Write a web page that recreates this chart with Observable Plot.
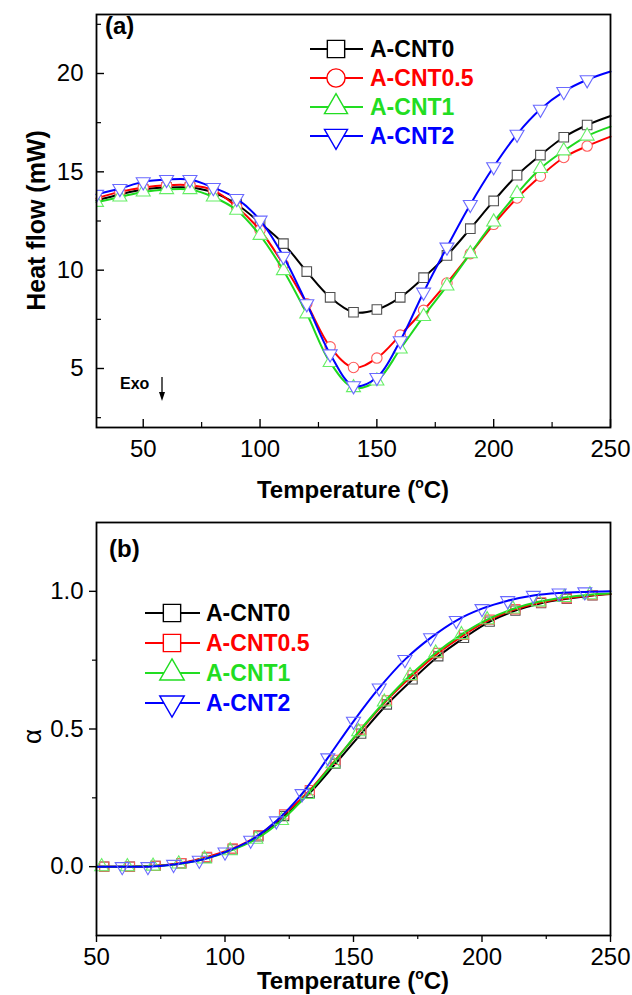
<!DOCTYPE html>
<html><head><meta charset="utf-8">
<script src="https://cdn.jsdelivr.net/npm/d3@7"></script>
<script src="https://cdn.jsdelivr.net/npm/@observablehq/plot@0.6"></script>
<style>
body{margin:0;background:#fff;}
#chart{width:632px;}
#chart svg{display:block;overflow:visible;}
</style></head><body><div id="chart"></div>
<script>
// ---------- DATA: panel (a) heat flow ----------
const T_A = [30,40,50,60,70,80,90,100,110,120,130,140,150,160,170,180,190,200,210,220,230,240,250];
const HF_CNT0  = [13.55,13.85,14.1,14.2,14.2,13.95,13.35,12.4,11.35,9.93,8.62,7.86,8.0,8.62,9.62,10.75,12.11,13.52,14.83,15.85,16.76,17.38,17.84];
const HF_CNT05 = [13.65,13.98,14.2,14.32,14.32,14.07,13.21,12.03,10.29,8.29,6.1,5.05,5.53,6.7,7.96,9.35,10.84,12.33,13.67,14.78,15.73,16.31,16.79];
const HF_CNT1  = [13.45,13.72,13.98,14.1,14.1,13.72,13.05,11.77,9.98,7.78,5.31,4.03,4.37,5.99,7.65,9.2,10.84,12.45,13.9,15.17,16.07,16.82,17.3];
const HF_CNT2  = [13.85,14.15,14.49,14.61,14.61,14.2,13.64,12.54,10.7,8.29,5.74,4.12,4.54,6.41,8.88,11.17,13.34,15.26,16.91,18.18,19.08,19.68,20.1];

// ---------- DATA: panel (b) conversion alpha ----------
const T_B_CNT0  = [50,53,63,73,83,93,103,113,123,133,143,153,163,173,183,193,203,213,223,233,243,250];
const A_CNT0    = [0,0,0,0.003,0.012,0.033,0.063,0.11,0.184,0.268,0.374,0.483,0.589,0.68,0.764,0.831,0.89,0.93,0.957,0.973,0.985,0.99];
const T_B_CNT05 = [50,53,63,73,83,93,103,113,123,133,143,153,163,173,183,193,203,213,223,233,243,250];
const A_CNT05   = [0,0,0,0.003,0.013,0.035,0.066,0.114,0.19,0.278,0.388,0.498,0.604,0.695,0.776,0.842,0.897,0.935,0.96,0.975,0.986,0.99];
const T_B_CNT1  = [50,52,62,72,82,92,102,112,122,132,142,152,162,172,182,192,202,212,222,232,242,250];
const A_CNT1    = [0,0,0,0.002,0.01,0.028,0.058,0.1,0.168,0.262,0.374,0.49,0.598,0.694,0.776,0.843,0.897,0.936,0.962,0.978,0.988,0.992];
const T_B_CNT2  = [50,60,70,80,90,100,110,120,130,140,150,160,170,180,190,200,210,220,230,240,250];
const A_CNT2    = [0,0,0,0.008,0.023,0.053,0.096,0.166,0.265,0.395,0.528,0.649,0.752,0.831,0.894,0.937,0.966,0.985,0.994,0.998,1.0];

const SERIES_NAMES = ["A-CNT0","A-CNT0.5","A-CNT1","A-CNT2"];

// ticks
const XA_MAJOR = [50,100,150,200,250];
const XA_MINOR = [75,125,175,225];
const YA_MAJOR = [5,10,15,20];
const YA_MINOR = [2.5,7.5,12.5,17.5,22.5];
const XB_MAJOR = [50,100,150,200,250];
const XB_MINOR = [75,125,175,225];
const YB_MAJOR = [0,0.5,1.0];
const YB_MINOR = [0.25,0.75];

// ---------- style ----------
const FONT = "'Liberation Sans', Arial, Helvetica, sans-serif";
const W = 632;
const sqrt3 = Math.sqrt(3);
const triangleDown = {draw(context, size){
  const y = -Math.sqrt(size/(sqrt3*3));
  context.moveTo(0, -y*2);
  context.lineTo(-sqrt3*y, y);
  context.lineTo(sqrt3*y, y);
  context.closePath();
}};
const LINE_COLORS = ["#000000","#ff0000","#1ed81e","#0000ff"];
const MARK_COLORS = ["#505050","#ff5a5a","#66ee66","#6a6aff"];
const TEXT_COLORS = ["#000000","#ff0000","#22dd22","#0000ff"];

function zip(T, V){ return T.map((t,i)=>({T:t, v:V[i]})); }

function addLegend(svg, items, x1, x2, xm, xt, y0, dy, sizes){
  const g = svg.append("g").attr("text-anchor","start");
  items.forEach((s,i)=>{
    const cy = y0 + i*dy;
    g.append("line").attr("x1",x1).attr("x2",x2).attr("y1",cy).attr("y2",cy)
      .attr("stroke",s.color).attr("stroke-width",2);
    g.append("path").attr("d", d3.symbol(s.sym, sizes[i])())
      .attr("transform",`translate(${xm},${cy})`)
      .attr("fill","white").attr("stroke",s.color).attr("stroke-width",1.4);
    g.append("text").attr("x",xt).attr("y",cy).attr("dy","0.36em").attr("text-anchor","start")
      .attr("font-family",FONT).attr("font-weight","bold").attr("font-size",23)
      .attr("fill",s.tcolor).text(s.name);
  });
}
function tempTitle(svg, x, y){
  const t = svg.append("text").attr("x",x).attr("y",y).attr("text-anchor","middle")
    .attr("font-family",FONT).attr("font-weight","bold").attr("font-size",24).attr("fill","black");
  t.append("tspan").text("Temperature (");
  t.append("tspan").text("o").attr("font-size",14).attr("dy",-10);
  t.append("tspan").text("C)").attr("dy",10);
}
function label(svg, x, y, txt, size, bold){
  return svg.append("text").attr("x",x).attr("y",y).attr("text-anchor","start")
    .attr("font-family",FONT).attr("font-weight",bold?"bold":"normal")
    .attr("font-size",size).attr("fill","black").text(txt);
}

// ---------- panel (a) ----------
{
  const H = 510, mt = 14, mb = 83, ml = 96, mr = 22;
  const innerW = W-ml-mr, innerH = H-mt-mb;
  const sA = [
    {data: zip(T_A,HF_CNT0),  sym:"square",   r:5.4},
    {data: zip(T_A,HF_CNT05), sym:"circle",   r:5.2},
    {data: zip(T_A,HF_CNT1),  sym:"triangle", r:5.2},
    {data: zip(T_A,HF_CNT2),  sym:triangleDown, r:5.2}
  ];
  const marks = [];
  sA.forEach((s,i)=>{
    marks.push(Plot.line(s.data,{x:"T",y:"v",stroke:LINE_COLORS[i],strokeWidth:2,curve:"catmull-rom"}));
    marks.push(Plot.dot(s.data.slice(0,-1),{x:"T",y:"v",symbol:s.sym,r:s.r,fill:"white",stroke:MARK_COLORS[i],strokeWidth:1.1,clip:true}));
  });
  marks.push(Plot.frame({stroke:"black",strokeWidth:1.8}));
  marks.push(Plot.tickX(XA_MAJOR,{x:d=>d,insetTop:innerH-8,stroke:"black",strokeWidth:1.4}));
  marks.push(Plot.tickX(XA_MINOR,{x:d=>d,insetTop:innerH-5,stroke:"black",strokeWidth:1.2}));
  marks.push(Plot.tickY(YA_MAJOR,{y:d=>d,insetRight:innerW-8,stroke:"black",strokeWidth:1.4}));
  marks.push(Plot.tickY(YA_MINOR,{y:d=>d,insetRight:innerW-5,stroke:"black",strokeWidth:1.2}));
  marks.push(Plot.axisX({ticks:XA_MAJOR,tickSize:0,tickPadding:12,fontSize:24,label:null}));
  marks.push(Plot.axisY({ticks:YA_MAJOR,tickSize:0,tickPadding:13,fontSize:24,label:null}));
  const plot = Plot.plot({
    width:W, height:H, marginTop:mt, marginBottom:mb, marginLeft:ml, marginRight:mr,
    style:{fontFamily:FONT, color:"black", background:"white", overflow:"visible"},
    x:{domain:[30,250]}, y:{domain:[2,23]},
    marks
  });
  document.getElementById("chart").appendChild(plot);
  const svg = d3.select(plot);
  tempTitle(svg, (ml+W-mr)/2, 498);
  svg.append("text").attr("transform",`translate(36,${mt+innerH/2}) rotate(-90)`)
    .attr("text-anchor","middle").attr("dy","0.36em")
    .attr("font-family",FONT).attr("font-weight","bold").attr("font-size",25).text("Heat flow (mW)");
  label(svg, 105, 34, "(a)", 24, true);
  label(svg, 120, 389, "Exo", 16, true);
  svg.append("path").attr("d","M162,377V395").attr("stroke","black").attr("stroke-width",1.3);
  svg.append("path").attr("d","M159,392L165,392L162,401Z").attr("fill","black");
  addLegend(svg, [
    {name:SERIES_NAMES[0], color:"#000", tcolor:TEXT_COLORS[0], sym:d3.symbolSquare},
    {name:SERIES_NAMES[1], color:"#ff0000", tcolor:TEXT_COLORS[1], sym:d3.symbolCircle},
    {name:SERIES_NAMES[2], color:"#22dd22", tcolor:TEXT_COLORS[2], sym:d3.symbolTriangle},
    {name:SERIES_NAMES[3], color:"#0000ff", tcolor:TEXT_COLORS[3], sym:triangleDown}
  ], 310, 363, 336, 370, 49, 29, [300,260,230,230]);
}

// ---------- panel (b) ----------
{
  const H = 485, mt = 12, mb = 60, ml = 96, mr = 22;
  const innerW = W-ml-mr, innerH = H-mt-mb;
  const sB = [
    {data: zip(T_B_CNT0,A_CNT0),   sym:"square"},
    {data: zip(T_B_CNT05,A_CNT05), sym:"square"},
    {data: zip(T_B_CNT1,A_CNT1),   sym:"triangle"},
    {data: zip(T_B_CNT2,A_CNT2),   sym:triangleDown}
  ];
  const marks = [];
  sB.forEach((s,i)=>{
    marks.push(Plot.line(s.data,{x:"T",y:"v",stroke:LINE_COLORS[i],strokeWidth:2,curve:"catmull-rom"}));
    marks.push(Plot.dot(s.data.slice(1,-1),{x:"T",y:"v",symbol:s.sym,r:5.2,fill:"none",stroke:MARK_COLORS[i],strokeWidth:1.1}));
  });
  marks.push(Plot.frame({stroke:"black",strokeWidth:1.8}));
  marks.push(Plot.axisX({ticks:XB_MAJOR,tickSize:7,tickPadding:5,fontSize:24,label:null,strokeWidth:1.4}));
  marks.push(Plot.axisX({ticks:XB_MINOR,tickSize:4,tickFormat:()=>"",label:null,strokeWidth:1.2}));
  marks.push(Plot.axisY({ticks:YB_MAJOR,tickSize:7,tickPadding:6,fontSize:24,label:null,tickFormat:d3.format(".1f"),strokeWidth:1.4}));
  marks.push(Plot.axisY({ticks:YB_MINOR,tickSize:4,tickFormat:()=>"",label:null,strokeWidth:1.2}));
  const plot = Plot.plot({
    width:W, height:H, marginTop:mt, marginBottom:mb, marginLeft:ml, marginRight:mr,
    style:{fontFamily:FONT, color:"black", background:"white", overflow:"visible"},
    x:{domain:[50,250]}, y:{domain:[-0.25,1.25]},
    marks
  });
  document.getElementById("chart").appendChild(plot);
  const svg = d3.select(plot);
  tempTitle(svg, (ml+W-mr)/2, 479);
  svg.append("text").attr("transform",`translate(32,${mt+innerH/2+8}) rotate(-90)`)
    .attr("text-anchor","middle").attr("dy","0.36em")
    .attr("font-family",FONT).attr("font-size",26).text("α");
  label(svg, 109, 47, "(b)", 24, true);
  addLegend(svg, [
    {name:SERIES_NAMES[0], color:"#000", tcolor:TEXT_COLORS[0], sym:d3.symbolSquare},
    {name:SERIES_NAMES[1], color:"#ff0000", tcolor:TEXT_COLORS[1], sym:d3.symbolSquare},
    {name:SERIES_NAMES[2], color:"#22dd22", tcolor:TEXT_COLORS[2], sym:d3.symbolTriangle},
    {name:SERIES_NAMES[3], color:"#0000ff", tcolor:TEXT_COLORS[3], sym:triangleDown}
  ], 145, 200, 172, 206, 103, 30, [300,300,260,260]);
}
</script></body></html>
